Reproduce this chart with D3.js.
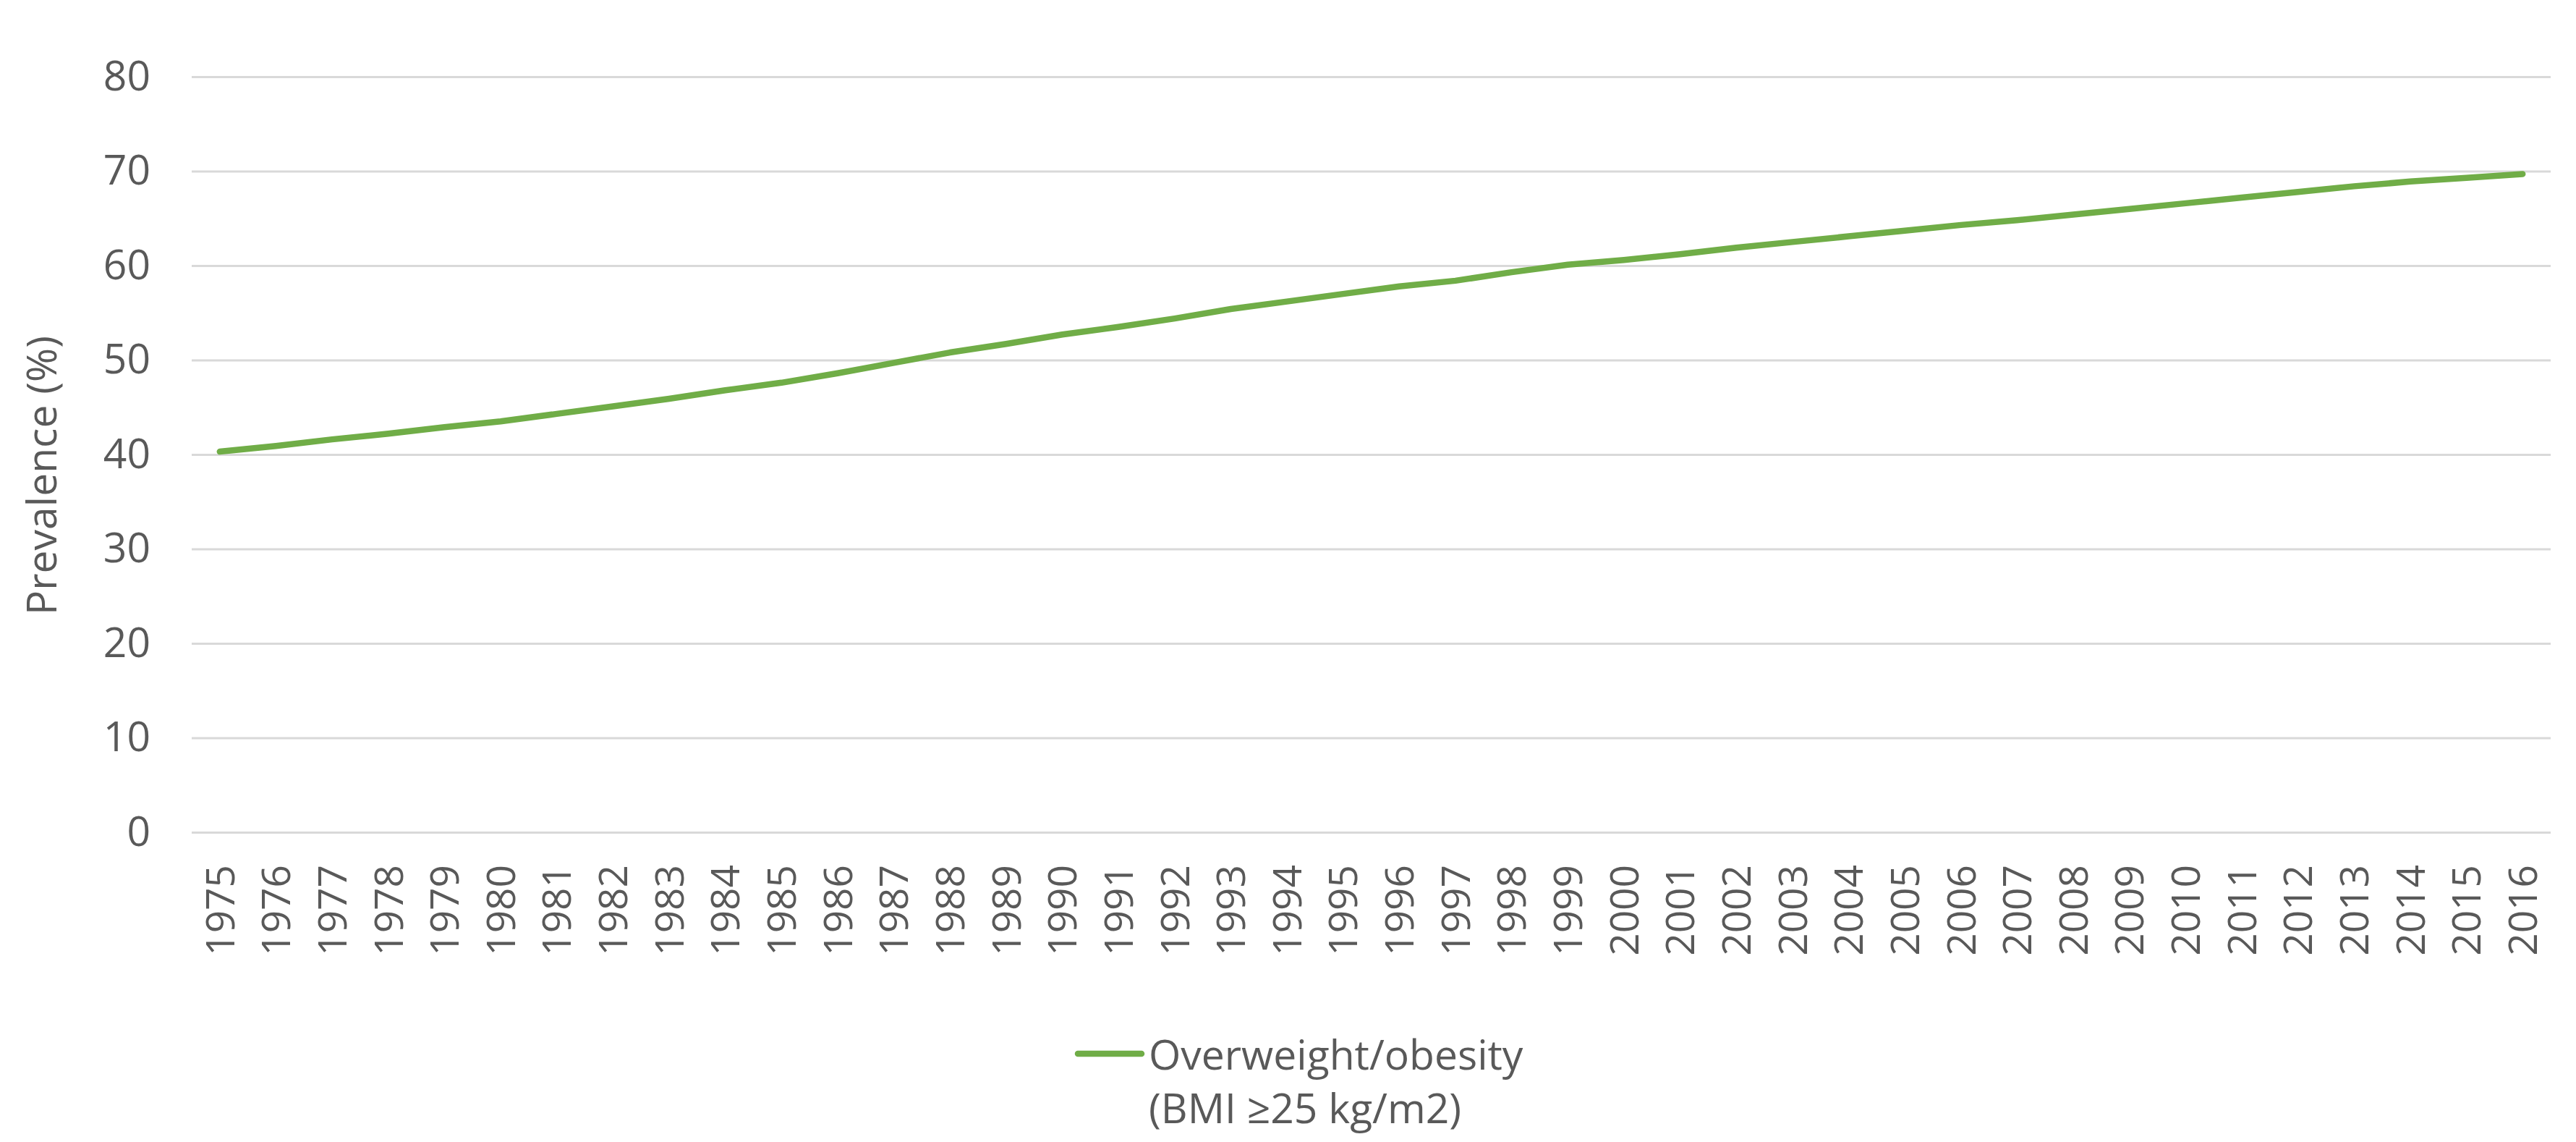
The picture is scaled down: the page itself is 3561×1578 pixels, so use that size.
<!DOCTYPE html>
<html>
<head>
<meta charset="utf-8">
<script src="https://cdn.jsdelivr.net/npm/d3@7"></script>
<style>
  body { margin: 0; background: #fff; }
</style>
</head>
<body>
<div id="chart"></div>
<script>
// years on the category axis
var years = [1975, 1976, 1977, 1978, 1979, 1980, 1981, 1982, 1983, 1984,
             1985, 1986, 1987, 1988, 1989, 1990, 1991, 1992, 1993, 1994,
             1995, 1996, 1997, 1998, 1999, 2000, 2001, 2002, 2003, 2004,
             2005, 2006, 2007, 2008, 2009, 2010, 2011, 2012, 2013, 2014,
             2015, 2016];

// prevalence (%) of overweight/obesity
var prevalence = [40.3, 40.9, 41.6, 42.2, 42.9, 43.5, 44.3, 45.1, 45.9, 46.8,
                  47.6, 48.6, 49.7, 50.8, 51.7, 52.7, 53.5, 54.4, 55.4, 56.2,
                  57.0, 57.8, 58.4, 59.3, 60.1, 60.6, 61.2, 61.9, 62.5, 63.1,
                  63.7, 64.3, 64.8, 65.4, 66.0, 66.6, 67.2, 67.8, 68.4, 68.9,
                  69.3, 69.7];

var yTicks = [0, 10, 20, 30, 40, 50, 60, 70, 80];

var seriesName = ["Overweight/obesity", "(BMI \u226525 kg/m2)"];

var width = 3561, height = 1578;
var plotLeft = 265, plotRight = 3526, plotTop = 106, plotBottom = 1150;
var font = "'Open Sans', 'Liberation Sans', sans-serif";
var textColor = "#595959";

var svg = d3.select("#chart")
            .append("svg")
            .attr("width", width)
            .attr("height", height);

var x = d3.scaleBand()
          .domain(years)
          .range([plotLeft, plotRight])
          .padding(0);

var y = d3.scaleLinear()
          .domain([0, 80])
          .range([plotBottom, plotTop]);

// gridlines
svg.append("g")
   .attr("transform", "translate(" + plotLeft + ",0)")
   .call(d3.axisLeft(y).tickValues(yTicks).tickSize(-(plotRight - plotLeft)).tickFormat(""))
   .call(function(g) { g.select(".domain").remove(); })
   .selectAll("line")
   .attr("stroke", "#d9d9d9")
   .attr("stroke-width", 3);

// y labels
svg.append("g")
   .attr("transform", "translate(" + plotLeft + ",0)")
   .call(d3.axisLeft(y).tickValues(yTicks).tickSize(0).tickPadding(57))
   .call(function(g) { g.select(".domain").remove(); })
   .selectAll("text")
   .attr("fill", textColor)
   .attr("font-family", font)
   .attr("font-size", "57px");

// x labels, rotated
svg.append("g")
   .attr("transform", "translate(0," + plotBottom + ")")
   .call(d3.axisBottom(x).tickSize(0))
   .call(function(g) { g.select(".domain").remove(); })
   .selectAll("text")
   .attr("transform", "rotate(-90)")
   .attr("x", -45)
   .attr("y", 0)
   .attr("dy", "0.36em")
   .style("text-anchor", "end")
   .attr("fill", textColor)
   .attr("font-family", font)
   .attr("font-size", "55px");

// y title
svg.append("text")
   .attr("transform", "translate(78,657) rotate(-90)")
   .attr("text-anchor", "middle")
   .attr("fill", textColor)
   .attr("font-family", font)
   .attr("font-size", "57px")
   .text("Prevalence (%)");

// the series line
var line = d3.line()
             .x(function(d, i) { return x(years[i]) + x.bandwidth() / 2; })
             .y(function(d) { return y(d); });

svg.append("path")
   .datum(prevalence)
   .attr("d", line)
   .attr("fill", "none")
   .attr("stroke", "#70ad47")
   .attr("stroke-width", 8.5)
   .attr("stroke-linecap", "round")
   .attr("stroke-linejoin", "round");

// legend
svg.append("line")
   .attr("x1", 1490)
   .attr("x2", 1578)
   .attr("y1", 1456)
   .attr("y2", 1456)
   .attr("stroke", "#70ad47")
   .attr("stroke-width", 8.5)
   .attr("stroke-linecap", "round");

svg.selectAll("legendtext")
   .data(seriesName)
   .enter()
   .append("text")
      .text(function(d) { return d; })
   .attr("x", 1588)
   .attr("y", function(d, i) { return 1478 + i * 74; })
   .attr("fill", textColor)
   .attr("font-family", font)
   .attr("font-size", "57px");
</script>
</body>
</html>
